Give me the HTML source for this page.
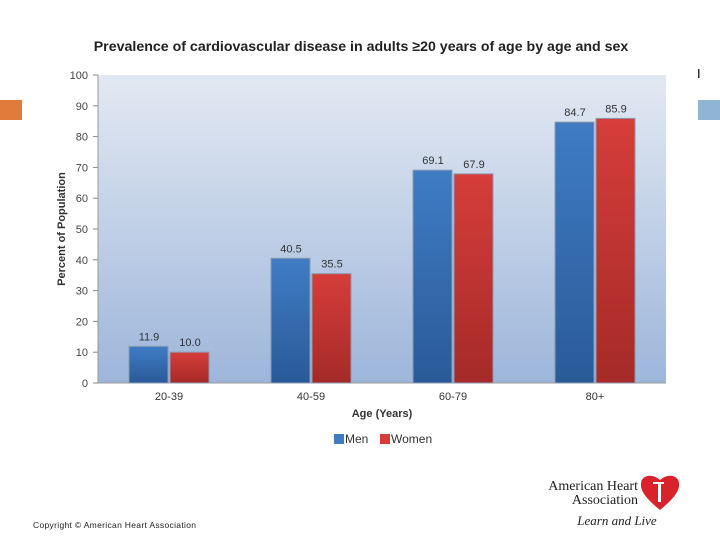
<!DOCTYPE html>
<html><head><meta charset="utf-8"><style>
body{margin:0;width:720px;height:540px;background:#fff;font-family:"Liberation Sans",sans-serif;overflow:hidden;position:relative}
</style></head><body>
<div style="position:absolute;left:0;top:100px;width:22px;height:20px;background:#e07b3c"></div>
<div style="position:absolute;left:698px;top:100px;width:22px;height:20px;background:#8fb4d6"></div>
<div style="position:absolute;left:697px;top:66px;font-size:13px">I</div>
<svg id="c" width="720" height="540" style="position:absolute;left:0;top:0">
<defs>
<linearGradient id="bg" x1="0" y1="0" x2="0" y2="1"><stop offset="0" stop-color="#e3e9f3"/><stop offset="1" stop-color="#9db6da"/></linearGradient>
<linearGradient id="bm" x1="0" y1="0" x2="0" y2="1"><stop offset="0" stop-color="#3f7cc4"/><stop offset="1" stop-color="#2a5a98"/></linearGradient>
<linearGradient id="bw" x1="0" y1="0" x2="0" y2="1"><stop offset="0" stop-color="#d63d3a"/><stop offset="1" stop-color="#a52a28"/></linearGradient>
</defs>
<text x="361" y="51" text-anchor="middle" font-size="14.2" font-weight="bold" fill="#222">Prevalence of cardiovascular disease in adults ≥20 years of age by age and sex</text>
<rect x="98" y="75" width="568" height="308" fill="url(#bg)"/>
<g id="g"></g>
<text transform="translate(65,229) rotate(-90)" text-anchor="middle" font-size="11" font-weight="bold" fill="#333">Percent of Population</text>
<text x="382" y="417" text-anchor="middle" font-size="11" font-weight="bold" fill="#333">Age (Years)</text>
<rect x="334" y="434" width="10" height="10" fill="#3f7cc4"/>
<text x="345" y="443" font-size="12" fill="#333">Men</text>
<rect x="380" y="434" width="10" height="10" fill="#d63d3a"/>
<text x="391" y="443" font-size="12" fill="#333">Women</text>
<text x="33" y="528" font-size="8.5" fill="#222" textLength="163">Copyright © American Heart Association</text>
<text x="638" y="490" text-anchor="end" font-family="Liberation Serif" font-size="14" fill="#222">American Heart</text>
<text x="638" y="504" text-anchor="end" font-family="Liberation Serif" font-size="14" fill="#222">Association</text>
<text x="617" y="525" text-anchor="middle" font-family="Liberation Serif" font-style="italic" font-size="13" fill="#222">Learn and Live</text>
<path d="M660 510 C648 500 640 492 641 483 C642 475 652 473 660 480 C668 473 678 475 679 483 C680 492 672 500 660 510Z" fill="#d8232a"/>
<rect x="658" y="482" width="3" height="20" fill="#fff"/><rect x="653" y="482" width="11" height="2" fill="#fff"/>
</svg>
<script>
const categories=["20-39","40-59","60-79","80+"];
const men=[11.9,40.5,69.1,84.7];
const women=[10.0,35.5,67.9,85.9];
const yTicks=[0,10,20,30,40,50,60,70,80,90,100];
const X0=98,W=568,Y0=383,H=308;
const y=v=>Y0-v/100*H;
const xc=i=>X0+W/categories.length*(i+0.5);
const g=document.getElementById('g');
const ns='http://www.w3.org/2000/svg';
function mk(t,a){const e=document.createElementNS(ns,t);for(const k in a)e.setAttribute(k,a[k]);g.appendChild(e);return e;}
yTicks.forEach(v=>{
 const t=mk('text',{x:88,y:y(v)+4,'text-anchor':'end','font-size':11,fill:'#444'});t.textContent=v;
 
 
 mk('line',{x1:93,x2:98,y1:y(v),y2:y(v),stroke:'#888'});
});
mk('line',{x1:98,x2:98,y1:75,y2:383,stroke:'#999'});
mk('line',{x1:98,x2:666,y1:383,y2:383,stroke:'#999'});
categories.forEach((c,i)=>{
 const cx=xc(i);
 [[men[i],cx-40,'url(#bm)','bar-men'],[women[i],cx+1,'url(#bw)','bar-women']].forEach(([v,x,f,n])=>{
  const r=mk('rect',{x:x,y:y(v),width:39,height:Y0-y(v),fill:f,stroke:'#8a9ab0','stroke-width':1});
  
  
  const l=mk('text',{x:x+20,y:y(v)-6,'text-anchor':'middle','font-size':11,fill:'#333'});l.textContent=v.toFixed(1);
  
  
 });
 const t=mk('text',{x:cx,y:400,'text-anchor':'middle','font-size':11,fill:'#333'});t.textContent=c;
 
 
});
</script>
</body></html>
